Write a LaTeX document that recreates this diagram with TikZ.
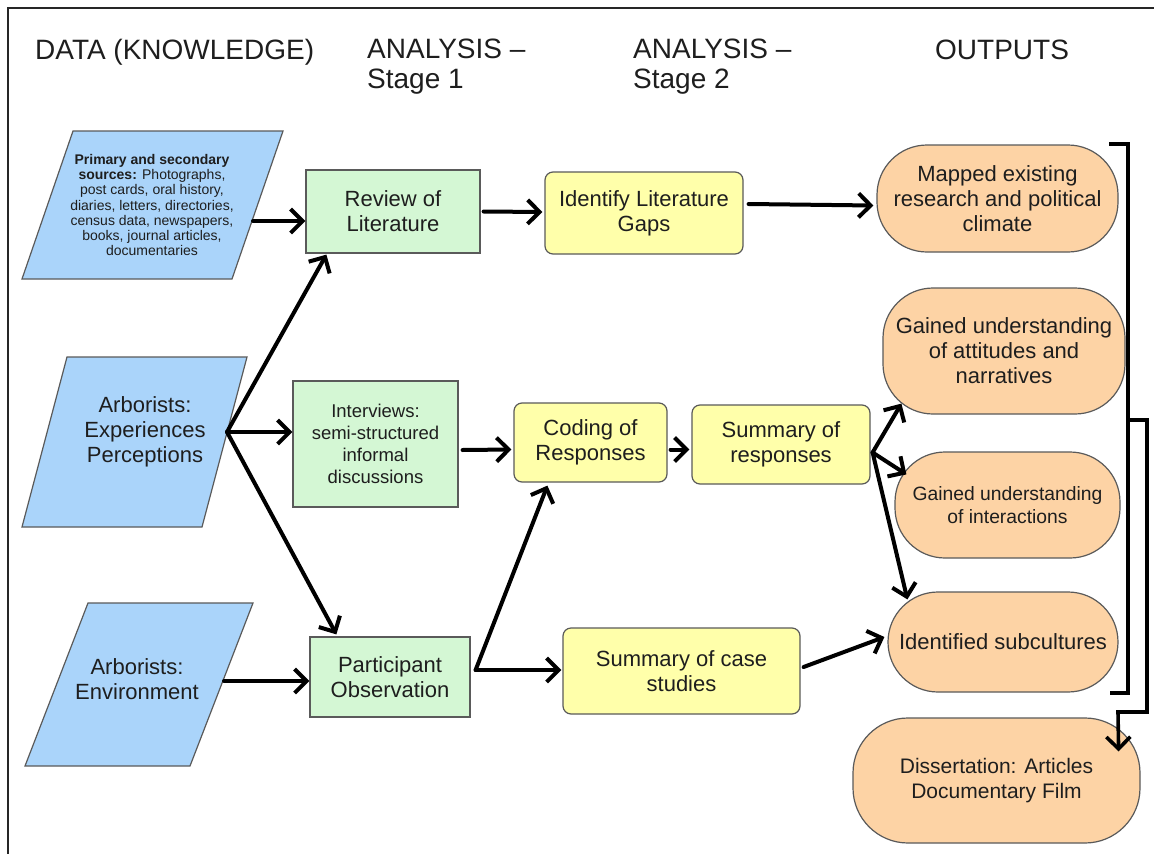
\documentclass[tikz,border=0pt]{standalone}
\usepackage{fontspec}
\setmainfont{Liberation Sans}
\usetikzlibrary{arrows.meta,calc}
\definecolor{pblue}{RGB}{170,212,250}
\definecolor{pgreen}{RGB}{212,247,212}
\definecolor{pyellow}{RGB}{255,255,170}
\definecolor{porange}{RGB}{253,211,165}
\definecolor{pborder}{RGB}{90,90,90}
\definecolor{ptext}{RGB}{30,30,30}
\begin{document}
\begin{tikzpicture}[x=1pt,y=-1pt,
  hdr/.style={font=\fontsize{28}{30}\selectfont, text=ptext, inner sep=0pt, align=left},
  boxtext/.style={font=\fontsize{22}{25}\selectfont, text=ptext, align=center, inner sep=0pt},
  greenbox/.style={boxtext, draw=pborder, line width=1.2pt, fill=pgreen},
  yellowbox/.style={boxtext, draw=pborder, line width=1.2pt, fill=pyellow, rounded corners=8pt},
  orangebox/.style={boxtext, draw=pborder, line width=1.2pt, fill=porange, rounded corners=50pt},
  para/.style={draw=pborder, line width=1.2pt, fill=pblue},
  conn/.style={line width=4pt, line cap=round, -{Straight Barb[length=12pt,width=24pt]}},
  bracketline/.style={line width=3.6pt}
]
\useasboundingbox (0,0) rectangle (1154,854);
\fill[white] (0,0) rectangle (1154,854);
\draw[line width=2pt, black!85] (1154,8) -- (8,8) -- (8,854);

% headers
\node[hdr, anchor=base west] (h1) at (35,59) {DATA (KNOWLEDGE)};
\node[hdr, anchor=north west] (h2) at (367,39) {ANALYSIS --\\Stage 1};
\node[hdr, anchor=north west] (h3) at (633,39) {ANALYSIS --\\Stage 2};
\node[hdr, anchor=base west] (h4) at (935,59) {OUTPUTS};

% parallelograms
\draw[para] (73,131) -- (283,131) -- (232,279) -- (22,279) -- cycle;
\draw[para] (67,357) -- (247,357) -- (202,527) -- (22,527) -- cycle;
\draw[para] (88,603) -- (253,603) -- (190,766) -- (25,766) -- cycle;
\coordinate (p1e) at (253,221);
\coordinate (p2e) at (227,432);
\coordinate (p3e) at (224,681);

\node[align=center, font=\fontsize{14}{15.3}\selectfont, text=ptext, inner sep=0pt] (p1) at (152,205)
  {\textbf{Primary and secondary}\\\textbf{sources:} Photographs,\\post cards, oral history,\\diaries, letters, directories,\\census data, newspapers,\\books, journal articles,\\documentaries};
\node[boxtext] (p2) at (145,432) {Arborists:\\Experiences\\Perceptions};
\node[boxtext] (p3) at (137,679) {Arborists:\\Environment};

% stage 1
\node[greenbox, minimum width=174pt, minimum height=83pt] (g1) at (393,211.5) {Review of\\Literature};
\node[greenbox, minimum width=165pt, minimum height=126pt, font=\fontsize{18.5}{22}\selectfont] (g2) at (375.5,444) {Interviews:\\semi-structured\\informal\\discussions};
\node[greenbox, minimum width=160pt, minimum height=80pt] (g3) at (390,677) {Participant\\Observation};

% stage 2
\node[yellowbox, minimum width=198pt, minimum height=82pt] (y1) at (644,213) {Identify Literature\\Gaps};
\node[yellowbox, minimum width=153pt, minimum height=79pt] (y2) at (590.5,442.5) {Coding of\\Responses};
\node[yellowbox, minimum width=178pt, minimum height=79pt] (y3) at (781,444.5) {Summary of\\responses};
\node[yellowbox, minimum width=237pt, minimum height=86pt] (y4) at (681.5,671) {Summary of case\\studies};

% outputs
\node[orangebox, minimum width=241pt, minimum height=107pt] (o1) at (997.5,198.5) {Mapped existing\\research and political\\climate};
\node[orangebox, minimum width=242pt, minimum height=126pt] (o2) at (1004,351) {Gained understanding\\of attitudes and\\narratives};
\node[orangebox, minimum width=225pt, minimum height=106pt, font=\fontsize{19.3}{23}\selectfont] (o3) at (1007.5,505) {Gained understanding\\of interactions};
\node[orangebox, minimum width=230pt, minimum height=100pt] (o4) at (1003,642) {Identified subcultures};
\node[orangebox, minimum width=287pt, minimum height=125pt, rounded corners=55pt, font=\fontsize{21}{25}\selectfont] (o5) at (996.5,780.5) {Dissertation: Articles\\Documentary Film};

% connectors
\draw[conn] (p1e) -- (g1.west |- p1e);
\draw[conn] (p2e) -- ($(g1.south west)+(21,1)$);
\draw[conn] (p2e) -- (g2.west |- p2e);
\draw[conn] (p2e) -- ($(g3.north west)+(27,-2)$);
\draw[conn] (p3e) -- (g3.west |- p3e);
\draw[conn] ($(g1.east)+(3,0)$) -- ($(y1.west)+(-2,-1)$);
\draw[conn] ($(y1.east)+(5,-9)$) -- ($(o1.west)+(-3,7)$);
\draw[conn] ($(g2.east)+(4,6)$) -- ($(y2.west)+(-2,7)$);
\coordinate (g3o) at ($(g3.east)+(5,-7)$);
\draw[conn] (g3o) -- ($(y2.south west)+(34,3)$);
\draw[conn] (g3o) -- ($(y4.west)+(-1,-1)$);
\draw[conn] ($(y2.east)+(3,7)$) -- ($(y3.west)+(-2,5)$);
\coordinate (y3o) at ($(y3.east)+(2,8)$);
\draw[conn] (y3o) -- ($(o2.south west)+(19,-11)$);
\draw[conn] (y3o) -- ($(o3.north west)+(12,23)$);
\draw[conn] (y3o) -- ($(o4.north west)+(20,8)$);
\draw[conn] ($(y4.east)+(3,-4)$) -- ($(o4.west)+(-3,-5)$);

% bracket
\draw[bracketline] (1109,144) -- (1128,144) -- (1128,693) -- (1110,693);
\coordinate (br) at (1128,420);
\draw[bracketline, -{Straight Barb[length=12pt,width=24pt]}] (br) -- (1147,420) -- (1147,712) -- (1118,712) -- ($(o5.north east)+(-22,34)$);
\end{tikzpicture}
\end{document}
